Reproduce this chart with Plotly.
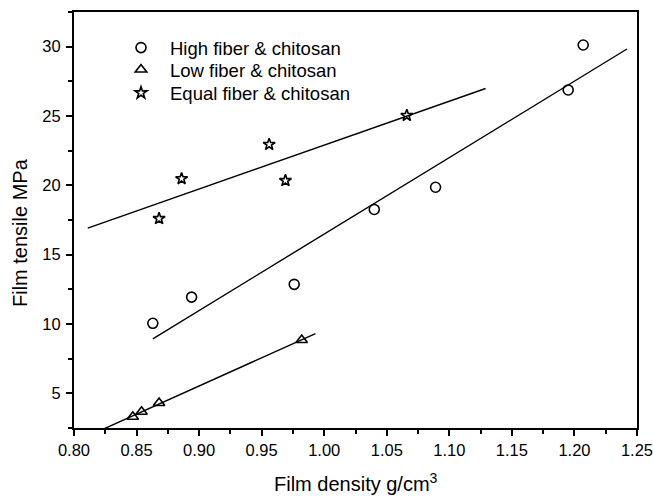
import numpy as np
import plotly.graph_objects as go

# Film density (g/cm3) and tensile strength (MPa) per formulation
high_density = [0.863, 0.894, 0.976, 1.040, 1.089, 1.195, 1.207]
high_tensile = [10.05, 11.94, 12.86, 18.26, 19.86, 26.88, 30.12]

low_density = [0.847, 0.854, 0.868, 0.982]
low_tensile = [3.31, 3.67, 4.30, 8.85]

equal_density = [0.868, 0.886, 0.956, 0.969, 1.066]
equal_tensile = [17.60, 20.48, 22.95, 20.34, 25.04]

series_names = ["High fiber & chitosan", "Low fiber & chitosan", "Equal fiber & chitosan"]
series_symbols = ["circle-open", "triangle-up-open", "star-open"]
series_sizes = [10, 10, 9]
# x-span over which each linear fit is drawn
fit_spans = [(0.863, 1.242), (0.82, 0.993), (0.811, 1.129)]

x_ticks = [0.80, 0.85, 0.90, 0.95, 1.00, 1.05, 1.10, 1.15, 1.20, 1.25]
y_ticks = [5, 10, 15, 20, 25, 30]

FONT = "Liberation Sans, Arial, sans-serif"

# one legend per series so the key rows sit close together
legend_ids = ["legend", "legend2", "legend3"]
legend_tops = [0.959, 0.9063, 0.8502]

fig = go.Figure()

data = [(high_density, high_tensile), (low_density, low_tensile), (equal_density, equal_tensile)]
for (xs, ys), name, sym, size, span, lg in zip(data, series_names, series_symbols,
                                                series_sizes, fit_spans, legend_ids):
    fig.add_trace(go.Scatter(
        x=xs, y=ys, mode="markers", name=name, legend=lg,
        marker=dict(symbol=sym, size=size, color="black", line=dict(width=1.6, color="black")),
        cliponaxis=False,
    ))
    slope, intercept = np.polyfit(xs, ys, 1)
    fx = np.array(span)
    fig.add_trace(go.Scatter(
        x=fx, y=slope * fx + intercept, mode="lines", showlegend=False,
        line=dict(color="black", width=1.4), hoverinfo="skip",
    ))

axis_common = dict(
    showline=True, linecolor="black", linewidth=2, mirror=True,
    ticks="outside", tickcolor="black", tickwidth=2, ticklen=6,
    showgrid=False, zeroline=False, automargin=False, ticklabeloverflow="allow",
    tickfont=dict(family=FONT, size=16.5, color="black"),
)

fig.update_xaxes(
    range=[0.80, 1.25], tickvals=x_ticks, ticktext=[f"{v:.2f}" for v in x_ticks],
    minor=dict(ticks="outside", ticklen=4, tickwidth=1.5, tickcolor="black", dtick=0.025, tick0=0.8),
    **axis_common,
)
fig.update_yaxes(
    range=[2.5, 32.5], tickvals=y_ticks, ticklabelstandoff=2,
    minor=dict(ticks="outside", ticklen=4, tickwidth=1.5, tickcolor="black", dtick=2.5, tick0=0),
    **axis_common,
)

title_font = dict(family=FONT, size=20, color="black")
fig.add_annotation(
    text="Film density g/cm<sup>3</sup>", xref="paper", yref="paper",
    x=0.5, y=-0.132, xanchor="center", yanchor="middle", showarrow=False, font=title_font,
)
fig.add_annotation(
    text="Film tensile MPa", xref="paper", yref="paper", textangle=-90,
    x=-0.096, y=0.471, xanchor="center", yanchor="middle", showarrow=False, font=title_font,
)

legend_style = dict(
    x=0.0675, xanchor="left", yanchor="top",
    bgcolor="rgba(0,0,0,0)", font=dict(family=FONT, size=18.5, color="black"),
    itemwidth=48,
)

fig.update_layout(
    width=653, height=496,
    margin=dict(l=74, r=16, t=12, b=68, autoexpand=False),
    paper_bgcolor="white", plot_bgcolor="white",
    font=dict(family=FONT, color="black"),
    **{lg: dict(y=top, **legend_style) for lg, top in zip(legend_ids, legend_tops)},
)

fig.write_html("out.html")
